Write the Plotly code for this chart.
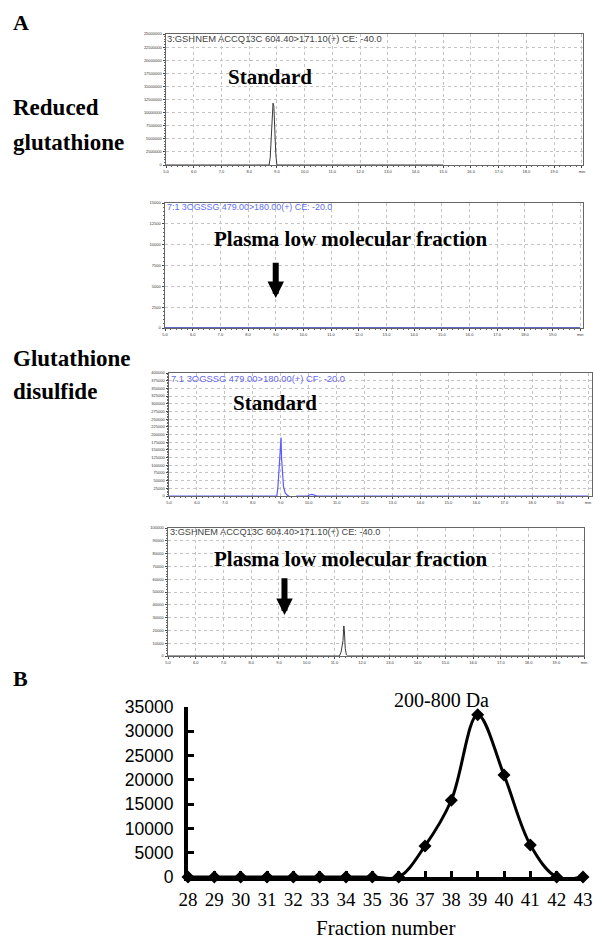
import plotly.graph_objects as go

W, H = 593, 939

# ---------------- data ----------------
time_ticks = [5, 6, 7, 8, 9, 10, 11, 12, 13, 14, 15, 16, 17, 18, 19, 20]
time_tick_text = ["5.0", "6.0", "7.0", "8.0", "9.0", "10.0", "11.0", "12.0", "13.0",
                  "14.0", "15.0", "16.0", "17.0", "18.0", "19.0", "min"]

# Panel 1: reduced glutathione standard
p1_time = [5.0, 8.72, 8.76, 8.80, 8.83, 8.86, 8.89, 8.92, 8.96, 9.00, 15.0]
p1_int = [0, 0, 1500000, 6000000, 10500000, 11800000, 11200000, 7000000, 2000000, 0, 0]
p1_yticks = [0, 2500000, 5000000, 7500000, 10000000, 12500000, 15000000,
             17500000, 20000000, 22500000, 25000000]

# Panel 2: GSSG channel, plasma low molecular fraction
p2_time = [5.0, 20.0]
p2_int = [0, 0]
p2_yticks = [0, 2500, 5000, 7500, 10000, 12500, 15000]

# Panel 3: glutathione disulfide standard
p3_time = [5.0, 8.86, 8.90, 8.94, 8.96, 8.99, 9.01, 9.03, 9.06, 9.10, 9.16, 9.24, 9.30,
           None, 9.55, 9.95, 10.05, 10.12, 10.20, 10.30, 20.0]
p3_int = [0, 0, 30000, 105000, 110000, 185000, 190000, 120000, 60000, 30000, 10000, 2000, 0,
          None, 0, 0, 4000, 5000, 3000, 0, 0]
p3_yticks = [0, 25000, 50000, 75000, 100000, 125000, 150000, 175000, 200000, 225000,
             250000, 275000, 300000, 325000, 350000, 375000, 400000]

# Panel 4: GSH channel, plasma low molecular fraction
p4_time = [5.0, 11.18, 11.24, 11.28, 11.31, 11.34, 11.36, 11.39, 11.43, 11.48, 20.0]
p4_int = [0, 0, 3000, 8000, 12000, 23500, 20000, 6000, 1000, 0, 0]
p4_yticks = [0, 10000, 20000, 30000, 40000, 50000, 60000, 70000, 80000, 90000, 100000]

# Arrow positions (time, intensity tip, intensity tail)
arrow2 = (9.0, 3600, 8000)
arrow4 = (9.2, 32000, 62000)

# Panel B
fractions = [28, 29, 30, 31, 32, 33, 34, 35, 36, 37, 38, 39, 40, 41, 42, 43]
fraction_int = [0, 0, 0, 0, 0, 0, 0, 0, 0, 6400, 15800, 33400, 21000, 6600, 0, 0]
b_yticks = [0, 5000, 10000, 15000, 20000, 25000, 30000, 35000]


def px(x):
    return x / W


def py(y):
    return 1 - y / H


fig = go.Figure()

fig.add_trace(go.Scatter(x=p1_time, y=p1_int, mode="lines", xaxis="x", yaxis="y",
                         line=dict(color="#3a3a3a", width=1)))
fig.add_trace(go.Scatter(x=p2_time, y=p2_int, mode="lines", xaxis="x2", yaxis="y2",
                         line=dict(color="#2a36b0", width=1.6)))
fig.add_trace(go.Scatter(x=p3_time, y=p3_int, mode="lines", xaxis="x3", yaxis="y3",
                         line=dict(color="#5b5bff", width=1.2), connectgaps=False))
fig.add_trace(go.Scatter(x=p4_time, y=p4_int, mode="lines", xaxis="x4", yaxis="y4",
                         line=dict(color="#3a3a3a", width=1)))
fig.add_trace(go.Scatter(x=fractions, y=fraction_int, mode="lines+markers", xaxis="x5", yaxis="y5",
                         line=dict(color="black", width=3, shape="spline", smoothing=1),
                         marker=dict(symbol="diamond", size=10, color="black"),
                         cliponaxis=False))

tiny = dict(family="Liberation Sans, Arial", size=4, color="#333")


def chrom_x(dom, rng, anchor):
    return dict(domain=[px(dom[0]), px(dom[1])], range=rng, anchor=anchor, automargin=False,
                tickvals=time_ticks, ticktext=time_tick_text, tickfont=tiny,
                ticks="outside", ticklen=2, tickwidth=0.6, tickcolor="#444",
                minor=dict(ticks="outside", ticklen=1, dtick=0.2, tickcolor="#666", showgrid=False),
                showgrid=True, gridcolor="#c4c4c4", griddash="dot", gridwidth=0.8,
                showline=True, linecolor="#666", linewidth=1, mirror=True,
                zeroline=False, tickangle=0, fixedrange=True)


def chrom_y(dom, yticks, anchor):
    step = yticks[1] - yticks[0]
    return dict(domain=[py(dom[1]), py(dom[0])], range=[yticks[0], yticks[-1]], anchor=anchor,
                automargin=False,
                tickvals=yticks, ticktext=[str(v) for v in yticks], tickfont=tiny,
                ticks="outside", ticklen=2.5, tickwidth=0.6, tickcolor="#444",
                minor=dict(ticks="outside", ticklen=1.2, dtick=step / 5, tickcolor="#666", showgrid=False),
                showgrid=True, gridcolor="#c4c4c4", griddash="dot", gridwidth=0.8,
                showline=True, linecolor="#666", linewidth=1, mirror=True,
                zeroline=False, fixedrange=True)


serif = "Liberation Serif, Times New Roman, serif"

layout = dict(
    width=W, height=H, margin=dict(l=0, r=0, t=0, b=0, autoexpand=False),
    paper_bgcolor="white", plot_bgcolor="white", showlegend=False,
    xaxis=chrom_x((166, 583), [5, 20.04], "y"),
    yaxis=chrom_y((34, 165), p1_yticks, "x"),
    xaxis2=chrom_x((165, 583), [5, 20.1], "y2"),
    yaxis2=chrom_y((203, 328), p2_yticks, "x2"),
    xaxis3=chrom_x((169, 592), [5, 20.14], "y3"),
    yaxis3=chrom_y((373, 496), p3_yticks, "x3"),
    xaxis4=chrom_x((168, 584), [5, 20.0], "y4"),
    yaxis4=chrom_y((528, 656), p4_yticks, "x4"),
    xaxis5=dict(domain=[px(188), px(583)], range=[28, 43], anchor="y5", automargin=False,
                tickvals=fractions, ticks="inside", ticklen=6, tickwidth=3, tickcolor="black",
                showline=True, linewidth=4, linecolor="black", showgrid=False, zeroline=False,
                tickfont=dict(family=serif, size=19, color="black"), ticklabelstandoff=2,
                fixedrange=True),
    yaxis5=dict(domain=[py(877), py(707)], range=[0, 35000], anchor="x5", automargin=False,
                tickvals=b_yticks, ticktext=[str(v) for v in b_yticks],
                ticks="inside", ticklen=6, tickwidth=3, tickcolor="black",
                showline=True, linewidth=4, linecolor="black", showgrid=False, zeroline=False,
                tickfont=dict(family="Liberation Sans, Arial", size=17.5, color="black"),
                ticklabelstandoff=7, fixedrange=True),
)

annotations = []


def label(text, x, y, size, bold=True, family=serif, color="black", xanchor="left"):
    annotations.append(dict(text=("<b>%s</b>" % text) if bold else text,
                            x=px(x), y=py(y), xref="paper", yref="paper",
                            xanchor=xanchor, yanchor="middle", showarrow=False,
                            font=dict(family=family, size=size, color=color)))


label("A", 11, 22, 22)
label("B", 11, 678, 22)
label("Reduced", 11, 108, 23)
label("glutathione", 11, 143, 23)
label("Glutathione", 11, 358, 23)
label("disulfide", 11, 392, 23)

label("Standard", 270, 77, 21, xanchor="center")
label("Plasma low molecular fraction", 350, 239, 21, xanchor="center")
label("Standard", 275, 403, 21, xanchor="center")
label("Plasma low molecular fraction", 350, 559, 21, xanchor="center")

sans = "Liberation Sans, Arial"
label("3:GSHNEM ACCQ13C 604.40&gt;171.10(+) CE: -40.0", 165, 38, 9.4, bold=False, family=sans, color="#444")
label("7:1 3OGSSG 479.00&gt;180.00(+) CE: -20.0", 165, 207, 8.9, bold=False, family=sans, color="#6070f0")
label("7.1 3OGSSG 479.00&gt;180.00(+) CF: -20.0", 169, 378, 9.4, bold=False, family=sans, color="#6a6af0")
label("3:GSHNEM ACCQ13C 604.40&gt;171.10(+) CE: -40.0", 168, 532, 9.2, bold=False, family=sans, color="#444")

label("200-800 Da", 441, 700, 20, bold=False, xanchor="center")
label("Fraction number", 385, 928, 21, bold=False, xanchor="center")

for (t, tip, tail), xr, yr in [(arrow2, "x2", "y2"), (arrow4, "x4", "y4")]:
    annotations.append(dict(x=t, y=tip, ax=t, ay=tail, xref=xr, yref=yr, axref=xr, ayref=yr,
                            text="", showarrow=True, arrowhead=2, arrowsize=0.55,
                            arrowwidth=6, arrowcolor="black"))

layout["annotations"] = annotations
fig.update_layout(**layout)

fig.write_html("out.html", config={"displayModeBar": False},
               post_script="document.body.style.margin='0';document.body.style.overflow='hidden';")
